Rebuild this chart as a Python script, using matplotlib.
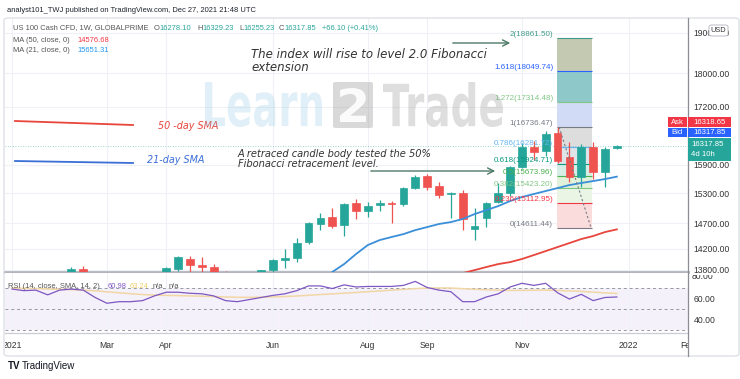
import numpy as np
import pandas as pd
import matplotlib
matplotlib.use("Agg")
import matplotlib.pyplot as plt
from matplotlib.patches import Rectangle, FancyBboxPatch, PathPatch, FancyArrowPatch
from matplotlib.lines import Line2D
from matplotlib.textpath import TextPath
from matplotlib.font_manager import FontProperties
from matplotlib.transforms import Affine2D, Bbox, TransformedBbox

W, H = 740, 379
plt.rcParams['font.family'] = ['Liberation Sans', 'DejaVu Sans']

# weekly candles, first bar = week of 2021-01-04
start = pd.Timestamp("2021-01-04")
opens = [12890, 12900, 12800, 13400, 12930, 13600, 13820, 13500, 12950, 12700,
         13050, 12950, 13000, 13480, 13820, 14010, 13890, 13860, 13720, 13430,
         13470, 13700, 13790, 13990, 14024, 14330, 14690, 14820, 14663, 15104,
         14950, 15060, 15110, 15090, 15420, 15660, 15450, 15280, 15310, 14590,
         14800, 15124, 15309, 15855, 16300, 16200, 16600, 16071, 15642, 16290,
         15749, 16278.10]
highs = [13000, 13050, 13400, 13620, 13650, 13850, 13880, 13600, 13050, 13150,
         13300, 13050, 13500, 13850, 14060, 14070, 14050, 13920, 13780, 13600,
         13740, 13800, 14010, 14195, 14407, 14720, 14900, 15000, 15100, 15180,
         15124, 15160, 15150, 15440, 15680, 15700, 15540, 15330, 15380, 15000,
         15130, 15520, 15880, 16380, 16420, 16650, 16736, 16400, 16350, 16400,
         16300, 16329.23]
lows = [12600, 12750, 12780, 12920, 12930, 13580, 13480, 12600, 12200, 12400,
        12800, 12600, 12950, 13470, 13780, 13700, 13760, 13400, 12980, 13140,
        13450, 13500, 13740, 13840, 13950, 14300, 14560, 14600, 14440, 14782,
        14822, 14950, 14700, 15050, 15400, 15380, 15200, 14800, 14560, 14368,
        14620, 15100, 15250, 15830, 16000, 16100, 15950, 15540, 15434, 15600,
        15434, 16255.23]
closes = [12890, 12800, 13370, 12925, 13600, 13820, 13530, 12900, 12700, 13000,
          12950, 13000, 13480, 13830, 14040, 13900, 13860, 13720, 13430, 13470,
          13690, 13790, 13990, 14020, 14310, 14700, 14800, 14643, 15084, 14941,
          15043, 15104, 15084, 15420, 15642, 15430, 15270, 15300, 14780, 14640,
          15104, 15309, 15855, 16290, 16190, 16575, 15985, 15642, 16290, 15749,
          16245, 16317.85]

rsi = [68.5, 67.0, 67.5, 63.0, 67.5, 68.5, 67.5, 60.5, 55.0, 56.5,
       56.5, 57.5, 62.0, 65.5, 65.5, 64.5, 64.0, 62.0, 57.5, 56.5,
       58.5, 60.5, 62.5, 64.0, 67.0, 71.5, 71.5, 69.0, 72.5, 70.5,
       71.0, 71.0, 71.0, 72.0, 75.8, 70.0, 67.5, 66.0, 56.5, 56.5,
       61.0, 64.0, 70.5, 74.0, 72.0, 74.0, 65.0, 59.0, 63.5, 57.5,
       60.5, 60.98]
rsi_ma = [69.5, 69.3, 69.0, 68.6, 68.3, 67.9, 67.5, 66.8, 65.9, 65.0,
          64.1, 63.3, 62.8, 62.5, 62.3, 62.0, 61.7, 61.4, 61.0, 60.7,
          60.6, 60.8, 61.0, 61.4, 61.9, 62.6, 63.3, 63.9, 64.6, 65.3,
          66.0, 66.7, 67.5, 68.2, 69.0, 69.4, 69.6, 69.5, 68.9, 68.3,
          67.8, 67.4, 67.2, 67.3, 67.4, 67.5, 67.2, 66.8, 66.3, 65.6,
          64.9, 64.3]

sma21_start = 26
sma21 = [13620, 13762, 13910, 14099, 14272, 14368, 14427, 14484, 14562, 14622,
         14683, 14721, 14782, 14881, 14961, 15043, 15145, 15228, 15289, 15351,
         15412, 15475, 15518, 15559, 15601, 15651.31]
sma50_start = 37
sma50 = [13687, 13741, 13797, 13855, 13910, 13947, 14006, 14080, 14156, 14233,
         14310, 14388, 14446, 14524, 14576.68]

fib_ratios = ["0", "0.236", "0.382", "0.5", "0.618", "0.786", "1", "1.272", "1.618", "2"]
fib_prices = [14611.44, 15112.95, 15423.20, 15673.96, 15924.71, 16281.72,
              16736.47, 17314.48, 18049.74, 18861.50]
fib_line_colors = ['#787b86', '#f23645', '#81c784', '#4caf50', '#089981',
                   '#64b5f6', '#787b86', '#81c784', '#2962ff', '#3f9a8a']
fib_fill_colors = ['#fbdcdc', '#eaf5e6', '#e1f1da', '#d6eee5', '#dfe4e8',
                   '#dddddd', '#d2dbf6', '#8fc8c8', '#c4c9b1']

price_ticks = [13800, 14200, 14700, 15300, 15900, 17200, 18000, 19000]
rsi_ticks = [40, 60]
month_dates = ["2021-01-04", "2021-03-01", "2021-04-05", "2021-06-07", "2021-08-02",
               "2021-09-06", "2021-11-01", "2022-01-03", "2022-02-07"]
month_labels = ["2021", "Mar", "Apr", "Jun", "Aug", "Sep", "Nov", "2022", "Feb"]

UP, DOWN = '#26a69a', '#ef5350'
FS = 5.4


def fx(x):
    return x / W


def fy(y):
    return 1 - y / H


def stretched(fig, s, x0, y0, x1, y1, color, alpha, family='DejaVu Sans'):
    # text fitted into a pixel box (y0 top, y1 baseline)
    tp = TextPath((0, 0), s, size=10, prop=FontProperties(family=family, weight='bold'))
    bb = tp.get_extents()
    tr = (Affine2D().translate(-bb.x0, -bb.y0)
          .scale((x1 - x0) / bb.width / W, (y1 - y0) / bb.height / H)
          .translate(fx(x0), fy(y1)))
    p = PathPatch(tr.transform_path(tp), transform=fig.transFigure,
                  fc=color, ec='none', alpha=alpha, zorder=5)
    fig.add_artist(p)


fig = plt.figure(figsize=(7.4, 3.79), dpi=100)

# ---------------- main price pane ----------------
ax = fig.add_axes([fx(5), fy(272), 683 / W, 254 / H])
ax.set_yscale('log')
ax.set_ylim(13762, 19388)
ax.set_xlim(-0.6, 56.96)
for s in ax.spines.values():
    s.set_visible(False)
ax.spines['bottom'].set_visible(True)
ax.spines['bottom'].set_color('#b2b5be')
ax.spines['bottom'].set_linewidth(2)

tick_pos = [(pd.Timestamp(d) - start).days / 7 for d in month_dates]
ax.set_xticks(tick_pos)
ax.tick_params(axis='x', length=0, labelbottom=False)
ax.yaxis.tick_right()
ax.yaxis.set_major_locator(plt.FixedLocator(price_ticks))
ax.yaxis.set_major_formatter(plt.FixedFormatter([f"{p:.2f}" for p in price_ticks]))
ax.yaxis.set_minor_locator(plt.NullLocator())
ax.tick_params(axis='y', length=0, pad=4, labelsize=6.2, labelcolor='#333333')
ax.grid(True, color='#eff1f6', lw=0.8)
ax.set_axisbelow(True)

x = np.arange(len(opens))
o, h, l, c = map(np.array, (opens, highs, lows, closes))
cols = [UP if ci >= oi else DOWN for oi, ci in zip(o, c)]
ax.vlines(x, l, h, colors=cols, lw=0.9, zorder=3)
ax.bar(x, np.abs(c - o), bottom=np.minimum(o, c), width=0.66, color=cols,
       edgecolor=cols, lw=0.5, zorder=4)

ax.plot(np.arange(sma21_start, sma21_start + len(sma21)), sma21, color='#3b8ed8', lw=1.3, zorder=5)
ax.plot(np.arange(sma50_start, sma50_start + len(sma50)), sma50, color='#e8453c', lw=1.3, zorder=5)
ax.axhline(closes[-1], color=UP, lw=0.6, ls=(0, (1, 2)), alpha=0.6, zorder=2)

# fibonacci retracement / extension
fx0, fx1 = 45.93, 48.87
for i in range(1, len(fib_prices)):
    ax.fill_between([fx0, fx1], fib_prices[i - 1], fib_prices[i],
                    color=fib_fill_colors[i - 1], lw=0, zorder=1)
ax.hlines(fib_prices, fx0, fx1, colors=fib_line_colors, lw=0.8, zorder=2)
for r, p, col in zip(fib_ratios, fib_prices, fib_line_colors):
    ax.text(fx0 - 0.3, p, f"{r}({p:.2f})", ha='right', va='bottom',
            fontsize=5.8, color=col, zorder=6)
ax.plot([fx0 + 0.2, fx1 - 0.05], [fib_prices[6], fib_prices[0]], color='#787b86',
        lw=0.8, ls=(0, (2, 2)), zorder=5)

# ---------------- RSI pane ----------------
rx = fig.add_axes([fx(5), fy(333), 683 / W, 60 / H])
rx.set_xlim(-0.6, 56.96)
rx.set_ylim(26.7, 83.8)
for s in rx.spines.values():
    s.set_visible(False)
rx.spines['bottom'].set_visible(True)
rx.spines['bottom'].set_color('#c9ccd4')
rx.spines['bottom'].set_linewidth(0.9)
rx.fill_between([-0.6, 56.96], 30, 70, color='#7e57c2', alpha=0.08, lw=0)
rx.hlines([70, 50, 30], -0.6, 56.96, colors='#9598a1', lw=0.7, ls=(0, (3, 3)))
rx.plot(x, rsi_ma, color='#f2d7a4', lw=1.1)
rx.plot(x, rsi, color='#7e57c2', lw=0.9)
rx.set_xticks(tick_pos)
rx.set_xticklabels(month_labels)
rx.tick_params(axis='x', length=0, pad=6, labelsize=6.2, labelcolor='#333333')
rx.grid(True, axis='x', color='#eff1f6', lw=0.8)
rx.yaxis.tick_right()
rx.set_yticks(rsi_ticks)
rx.set_yticklabels([f"{v:.2f}" for v in rsi_ticks])
rx.tick_params(axis='y', length=0, pad=4, labelsize=6.2, labelcolor='#333333')
clip_x = TransformedBbox(Bbox([[0, -3], [1, 2]]), rx.transAxes)
for t in rx.get_xticklabels():
    t.set_clip_box(clip_x)
    t.set_clip_on(True)

# 80.00 label, half hidden under the price pane
t80 = fig.text(fx(692), fy(276.5), "80.00", fontsize=6.2, color='#333333', va='center')
t80.set_clip_box(TransformedBbox(Bbox([[0, 0], [1, fy(275)]]), fig.transFigure))
t80.set_clip_on(True)

# ---------------- frame, separators ----------------
fig.add_artist(FancyBboxPatch((fx(4), fy(356)), 735 / W, 338 / H,
                              boxstyle='round,pad=0,rounding_size=0.006',
                              transform=fig.transFigure, fc='none', ec='#d6d9e0', lw=0.8))
fig.add_artist(Line2D([fx(688), fx(688)], [fy(18), fy(356)], color='#8a8d96', lw=0.9))

# ---------------- texts ----------------
fig.text(fx(7), fy(10), "analyst101_TWJ published on TradingView.com, Dec 27, 2021 21:48 UTC",
         fontsize=FS, color='#1e222d', va='center')
fig.text(fx(13), fy(28), "US 100 Cash CFD, 1W, GLOBALPRIME", fontsize=FS, color='#555555', va='center')
for lab, xl, val, xv in [("O", 154, "16278.10", 159), ("H", 197, "16329.23", 202),
                         ("L", 239, "16255.23", 243), ("C", 279, "16317.85", 284)]:
    fig.text(fx(xl), fy(28), lab, fontsize=FS, color='#555555', va='center')
    fig.text(fx(xv), fy(28), val, fontsize=FS, color=UP, va='center')
fig.text(fx(322), fy(28), "+66.10 (+0.41%)", fontsize=FS, color=UP, va='center')
fig.text(fx(13), fy(40), "MA (50, close, 0)", fontsize=FS, color='#555555', va='center')
fig.text(fx(77), fy(40), "14576.68", fontsize=FS, color='#f23645', va='center')
fig.text(fx(13), fy(51), "MA (21, close, 0)", fontsize=FS, color='#555555', va='center')
fig.text(fx(77), fy(51), "15651.31", fontsize=FS, color='#2196f3', va='center')

fig.text(fx(8), fy(287), "RSI (14, close, SMA, 14, 2)", fontsize=FS, color='#555555', va='center')
fig.text(fx(108), fy(287), "60.98", fontsize=FS, color='#7e57c2', va='center')
fig.text(fx(130), fy(287), "63.24", fontsize=FS, color='#f0cf6a', va='center')
fig.text(fx(153), fy(287), "n/a", fontsize=FS, color='#555555', va='center')
fig.text(fx(169), fy(287), "n/a", fontsize=FS, color='#555555', va='center')

# SMA key drawn on chart
fig.add_artist(Line2D([fx(15), fx(133)], [fy(121), fy(125)], color='#e8453c', lw=1.3))
fig.add_artist(Line2D([fx(15), fx(133)], [fy(161), fy(163)], color='#3b6fd6', lw=1.3))
fig.text(fx(158), fy(126), "50 -day SMA", fontsize=6.9, color='#e8453c', style='italic',
         family='DejaVu Sans', va='center')
fig.text(fx(147), fy(160), "21-day SMA", fontsize=6.9, color='#3b6fd6', style='italic',
         family='DejaVu Sans', va='center')

# watermark
stretched(fig, "Learn", 205, 82, 322, 127, '#8ec5e6', 0.26)
fig.add_artist(FancyBboxPatch((fx(333), fy(128)), 40 / W, 46 / H,
                              boxstyle='round,pad=0,rounding_size=0.004',
                              transform=fig.transFigure, fc='#8a8a8a', ec='none',
                              alpha=0.32, zorder=5))
stretched(fig, "2", 340, 88, 366, 122, 'white', 0.9)
stretched(fig, "Trade", 383, 82, 503, 127, '#8a8a8a', 0.28)

# annotations
fig.text(fx(251), fy(61), "The index will rise to level 2.0 Fibonacci\nextension", fontsize=8.5,
         color='#333333', style='italic', family='DejaVu Sans', va='center', linespacing=0.95)
fig.text(fx(238), fy(159), "A retraced candle body tested the 50%\nFibonacci retracement level.",
         fontsize=7.1, color='#333333', style='italic', family='DejaVu Sans', va='center',
         linespacing=1.0)
for (x0, y0, x1, y1) in [(450, 43, 513, 43), (368, 171, 498, 171)]:
    fig.add_artist(FancyArrowPatch(
        (fx(x0), fy(y0)), (fx(x1), fy(y1)), transform=fig.transFigure,
        arrowstyle='->', mutation_scale=11, color='#4e7a68', lw=1.0))


# price-scale labels
def box(x0, y0, x1, y1, color, zorder=6):
    fig.add_artist(Rectangle((fx(x0), fy(y1)), (x1 - x0) / W, (y1 - y0) / H,
                             transform=fig.transFigure, fc=color, ec='none', zorder=zorder))


fig.add_artist(FancyBboxPatch((fx(709), fy(36)), 19 / W, 11 / H,
                              boxstyle='round,pad=0,rounding_size=0.004', transform=fig.transFigure,
                              fc='white', ec='#b2b5be', lw=0.6, zorder=6))
fig.text(fx(718.5), fy(30.5), "USD", fontsize=5.3, color='#333333', ha='center', va='center', zorder=7)
box(668, 117, 687, 127, '#f23645')
box(688, 117, 731, 127, '#f23645')
fig.text(fx(677.5), fy(122), "Ask", fontsize=5.6, color='white', ha='center', va='center', zorder=7)
fig.text(fx(709.5), fy(122), "16318.65", fontsize=5.6, color='white', ha='center', va='center', zorder=7)
box(668, 128, 687, 137, '#2962ff')
box(688, 128, 731, 137, '#2962ff')
fig.text(fx(677.5), fy(132.5), "Bid", fontsize=5.6, color='white', ha='center', va='center', zorder=7)
fig.text(fx(709.5), fy(132.5), "16317.85", fontsize=5.6, color='white', ha='center', va='center', zorder=7)
box(688, 138, 731, 161, '#26a69a')
fig.text(fx(691), fy(144), "16317.85", fontsize=5.6, color='white', va='center', zorder=7)
fig.text(fx(691), fy(155), "4d 10h", fontsize=5.6, color='white', va='center', zorder=7)

# footer logo
fig.text(fx(8), fy(366), "TV", fontsize=7, color='#131722', weight='bold', va='center')
fig.text(fx(22), fy(366), "TradingView", fontsize=7, color='#131722', va='center')

fig.savefig('out.png', dpi=100, facecolor='white')
